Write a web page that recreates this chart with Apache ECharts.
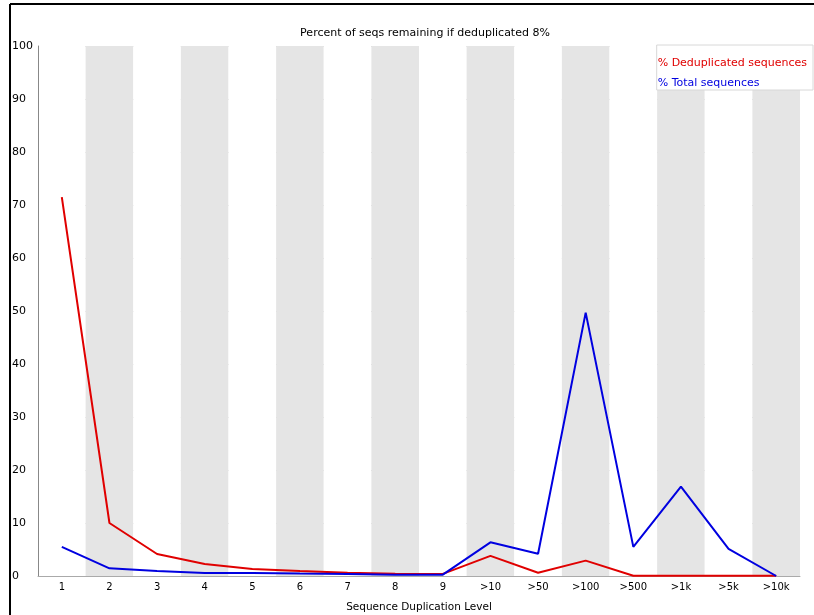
<!DOCTYPE html>
<html><head><meta charset="utf-8">
<script src="https://cdn.jsdelivr.net/npm/echarts@6/dist/echarts.min.js"></script>
<style>html,body{margin:0;padding:0;background:#fff;width:100%;height:100%;overflow:hidden}#c{width:814px;height:615px}</style>
</head><body><div id="c"></div>
<script>
var categories = ['1','2','3','4','5','6','7','8','9','>10','>50','>100','>500','>1k','>5k','>10k'];
var dedupValues = [71.5, 10.0, 4.15, 2.26, 1.3, 0.94, 0.62, 0.43, 0.4, 3.8, 0.62, 2.9, 0.05, 0.05, 0.05, 0.05];
var totalValues = [5.5, 1.45, 0.94, 0.57, 0.55, 0.45, 0.38, 0.25, 0.25, 6.35, 4.2, 49.7, 5.5, 16.85, 5.1, 0.0];
var yTicks = [0, 10, 20, 30, 40, 50, 60, 70, 80, 90, 100];
var titleText = 'Percent of seqs remaining if deduplicated 8%';
var xName = 'Sequence Duplication Level';
var dedupName = '% Deduplicated sequences';
var totalName = '% Total sequences';

var FONT = 'DejaVu Sans';
var chart = echarts.init(document.getElementById('c'), null, {renderer: 'canvas', width: 814, height: 615});
chart.setOption({
  animation: false,
  textStyle: {fontFamily: FONT},
  title: {text: titleText, left: 420, top: 23, textAlign: 'center',
    textStyle: {fontFamily: FONT, fontSize: 11, fontWeight: 'normal', color: '#000'}},
  legend: {
    orient: 'vertical', right: 1, top: 45, itemGap: 9, itemWidth: 0, itemHeight: 0,
    icon: 'rect', backgroundColor: '#fff', borderColor: '#d8d8d8', borderWidth: 1,
    padding: [13, 6, 1, 0], selectedMode: false,
    data: [
      {name: dedupName, textStyle: {color: '#e00000'}},
      {name: totalName, textStyle: {color: '#0000e0'}}
    ],
    textStyle: {fontFamily: FONT, fontSize: 11, padding: [0,0,0,-4]}
  },
  grid: {left: 38, right: 14, top: 46, bottom: 39, containLabel: false, outerBoundsMode: 'none'},
  xAxis: {
    type: 'category', data: categories, boundaryGap: true,
    name: xName, nameLocation: 'middle', nameGap: 26,
    nameTextStyle: {fontFamily: FONT, fontSize: 10.5, color: '#000'},
    axisLine: {show: true, lineStyle: {color: '#aaa', width: 1}},
    axisTick: {show: false},
    axisLabel: {fontFamily: FONT, fontSize: 10, color: '#000', margin: 6, interval: 0},
    splitLine: {show: false},
    splitArea: {show: true, interval: 0, areaStyle: {color: ['#ffffff', '#e5e5e5']}}
  },
  yAxis: {
    type: 'value', min: yTicks[0], max: yTicks[yTicks.length - 1], interval: 10,
    axisLine: {show: true, lineStyle: {color: '#888', width: 1}},
    axisTick: {show: false},
    axisLabel: {fontFamily: FONT, fontSize: 11, color: '#000', align: 'left', margin: 26},
    splitLine: {show: true, lineStyle: {color: '#c8c8c8', width: 1}}
  },
  series: [
    {name: dedupName, type: 'line', data: dedupValues, showSymbol: false, symbol: 'none',
      lineStyle: {color: '#e00000', width: 2}, itemStyle: {color: '#e00000'}, z: 3},
    {name: totalName, type: 'line', data: totalValues, showSymbol: false, symbol: 'none',
      lineStyle: {color: '#0000e0', width: 2}, itemStyle: {color: '#0000e0'}, z: 4}
  ],
  graphic: [
    {type: 'line', shape: {x1: 10, y1: 4, x2: 814, y2: 4}, style: {stroke: '#000', lineWidth: 2}, z: 100},
    {type: 'line', shape: {x1: 10, y1: 4, x2: 10, y2: 615}, style: {stroke: '#000', lineWidth: 2}, z: 100}
  ]
});
</script></body></html>
